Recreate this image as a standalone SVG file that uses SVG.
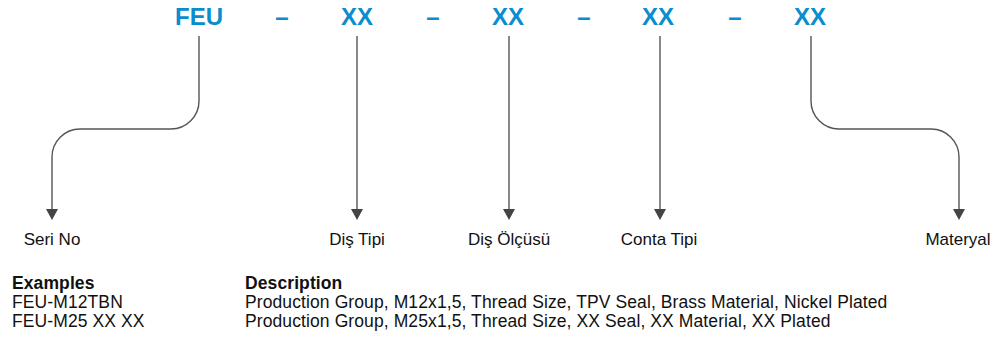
<svg xmlns="http://www.w3.org/2000/svg" width="997" height="337" viewBox="0 0 997 337">
<defs>
<marker id="ah" viewBox="0 0 11 12" refX="0" refY="6" markerWidth="11" markerHeight="12" markerUnits="userSpaceOnUse" orient="auto">
<path d="M0,0 L11,6 L0,12 Z" fill="#444"/>
</marker>
<style>
.code{font-family:"Liberation Sans",Arial,sans-serif;font-weight:bold;font-size:24px;fill:#0a8dce;text-anchor:middle}
.lbl{font-family:"Liberation Sans",Arial,sans-serif;font-size:17px;fill:#111;text-anchor:middle}
.tx{font-family:"Liberation Sans",Arial,sans-serif;font-size:17.5px;letter-spacing:0.1px;fill:#111}
.b{font-weight:bold}
.c{fill:none;stroke:#555;stroke-width:1.4}
</style>
</defs>
<rect width="997" height="337" fill="#fff"/>
<g id="code">
<text class="code" x="199" y="25">FEU</text>
<text class="code" x="282" y="25">–</text>
<text class="code" x="357" y="25">XX</text>
<text class="code" x="433" y="25">–</text>
<text class="code" x="508" y="25">XX</text>
<text class="code" x="584" y="25">–</text>
<text class="code" x="658" y="25">XX</text>
<text class="code" x="735" y="25">–</text>
<text class="code" x="810" y="25">XX</text>
</g>
<g id="connectors">
<path class="c" d="M199,36 V101 A28,28 0 0 1 171,129 H80 A28,28 0 0 0 52,157 V209" marker-end="url(#ah)"/>
<path class="c" d="M357,36 V209" marker-end="url(#ah)"/>
<path class="c" d="M509,36 V209" marker-end="url(#ah)"/>
<path class="c" d="M660,36 V209" marker-end="url(#ah)"/>
<path class="c" d="M811,36 V101 A28,28 0 0 0 839,129 H931 A28,28 0 0 1 959,157 V209" marker-end="url(#ah)"/>
</g>
<g id="n-seri"><text class="lbl" x="52" y="245">Seri No</text></g>
<g id="n-distipi"><text class="lbl" x="357" y="245">Diş Tipi</text></g>
<g id="n-disolcusu"><text class="lbl" x="509" y="245">Diş Ölçüsü</text></g>
<g id="n-conta"><text class="lbl" x="659" y="245">Conta Tipi</text></g>
<g id="n-materyal"><text class="lbl" x="958" y="245">Materyal</text></g>
<g id="examples">
<text class="tx b" x="12" y="289">Examples</text>
<text class="tx" x="12" y="308">FEU-M12TBN</text>
<text class="tx" x="12" y="327">FEU-M25 XX XX</text>
</g>
<g id="description">
<text class="tx b" x="245" y="289">Description</text>
<text class="tx" x="245" y="308">Production Group, M12x1,5, Thread Size, TPV Seal, Brass Material, Nickel Plated</text>
<text class="tx" x="245" y="327">Production Group, M25x1,5, Thread Size, XX Seal, XX Material, XX Plated</text>
</g>
</svg>
